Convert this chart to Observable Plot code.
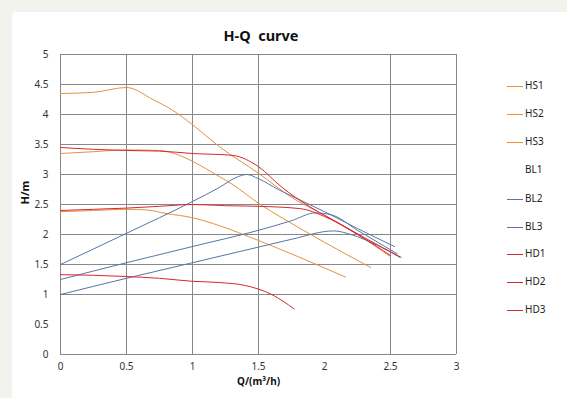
<!DOCTYPE html>
<html><head><meta charset="utf-8">
<script src="https://cdn.jsdelivr.net/npm/d3@7"></script>
<script src="https://cdn.jsdelivr.net/npm/@observablehq/plot@0.6"></script>
<style>
body{margin:0;background:#f3f3ee;font-family:"Noto Sans",sans-serif;}
#wrap{position:relative;width:567px;height:398px;overflow:hidden;}
#panel{position:absolute;left:12px;top:12px;width:560px;height:390px;background:#fff;border-radius:4px;}
#chart{position:absolute;left:0;top:0;}
#title{position:absolute;left:0;width:522px;top:25px;text-align:center;font-weight:bold;font-size:14.5px;color:#111;white-space:pre;}
.leg{position:absolute;left:507px;font-size:10px;color:#222;height:12px;line-height:12px;}
.leg i{display:inline-block;width:16px;height:0;border-top:1px solid;vertical-align:middle;margin-right:2px;}
</style></head>
<body><div id="wrap"><div id="panel"></div><div id="chart"></div><div id="title">H-Q  curve</div><div id="legend"></div></div>
<script>
const seriesNames = ["HS1","HS2","HS3","BL1","BL2","BL3","HD1","HD2","HD3"];
const seriesColors = ["#e3913f","#e3913f","#e3913f","#5676a8","#5676a8","#5676a8","#d9282e","#d9282e","#d9282e"];
const legendLine = [true,true,true,false,true,true,true,true,true];

const HS1 = [[0,4.35],[0.25,4.37],[0.5,4.45],[0.7,4.25],[0.85,4.07],[1.0,3.83],[1.2,3.47],[1.5,3.02],[1.75,2.62],[2.0,2.32],[2.25,2.0],[2.5,1.63]];
const HS2 = [[0,3.35],[0.25,3.38],[0.5,3.41],[0.75,3.4],[0.9,3.32],[1.0,3.22],[1.1,3.1],[1.2,2.97],[1.3,2.84],[1.5,2.52],[1.7,2.25],[2.0,1.87],[2.35,1.45]];
const HS3 = [[0,2.38],[0.25,2.4],[0.5,2.42],[0.65,2.41],[0.8,2.35],[1.0,2.28],[1.2,2.15],[1.5,1.9],[1.8,1.63],[2.16,1.29]];
const BL1 = [[0,1.5],[0.5,2.02],[1.0,2.55],[1.2,2.78],[1.33,2.95],[1.41,3.0],[1.5,2.93],[1.65,2.75],[1.82,2.57],[2.0,2.38],[2.25,2.1],[2.53,1.8]];
const BL2 = [[0,1.25],[0.5,1.53],[1.0,1.8],[1.5,2.07],[1.75,2.23],[1.93,2.36],[2.05,2.33],[2.25,2.07],[2.55,1.68]];
const BL3 = [[0,1.0],[0.5,1.27],[1.0,1.53],[1.5,1.79],[1.75,1.92],[2.07,2.06],[2.2,2.0],[2.4,1.82],[2.57,1.62]];
const HD1 = [[0,3.45],[0.25,3.42],[0.5,3.4],[0.75,3.39],[1.0,3.35],[1.3,3.32],[1.5,3.13],[1.67,2.8],[1.89,2.46],[2.1,2.2],[2.3,1.95],[2.58,1.62]];
const HD2 = [[0,2.4],[0.25,2.42],[0.5,2.44],[0.75,2.47],[1.0,2.5],[1.25,2.48],[1.5,2.47],[1.82,2.43],[2.0,2.3],[2.25,2.0],[2.5,1.65]];
const HD3 = [[0,1.33],[0.25,1.32],[0.5,1.3],[0.75,1.27],[1.0,1.22],[1.2,1.2],[1.4,1.15],[1.6,1.0],[1.77,0.76]];

const xTicks = [0,0.5,1,1.5,2,2.5,3];
const yTicks = [0,0.5,1,1.5,2,2.5,3,3.5,4,4.5,5];
const xGrid = [0,0.5,1,1.5,2.5,3];
const yGrid = [0,1,1.5,2,2.5,3,3.5,4,4.5,5];

const allSeries = [HS1,HS2,HS3,BL1,BL2,BL3,HD1,HD2,HD3];
const rows = [];
allSeries.forEach((s,i)=>s.forEach(([q,h])=>rows.push({series:seriesNames[i],q,h})));

const chart = Plot.plot({
  width:567, height:398,
  marginLeft:60, marginRight:111, marginTop:54, marginBottom:44,
  style:{fontFamily:"Noto Sans, sans-serif",fontSize:"10px",color:"#333",background:"transparent"},
  x:{domain:[0,3], ticks:xTicks, tickSize:0, tickPadding:8, label:null, tickFormat:d=>String(d)},
  y:{domain:[0,5], ticks:yTicks, tickSize:0, tickPadding:12, label:null, tickFormat:d=>String(d)},
  color:{domain:seriesNames, range:seriesColors},
  marks:[
    Plot.ruleX(xGrid,{stroke:"#888",strokeWidth:1}),
    Plot.ruleY(yGrid,{stroke:"#888",strokeWidth:1}),
    Plot.line(rows,{x:"q",y:"h",z:"series",stroke:"series",strokeWidth:1,curve:"monotone-x"}),
    Plot.axisX({ticks:xTicks,tickSize:0,tickPadding:8,label:null,tickFormat:d=>String(d)}),
    Plot.axisY({ticks:yTicks,tickSize:0,tickPadding:12,label:null,tickFormat:d=>String(d)}),
    Plot.text(["Q/(m³/h)"],{frameAnchor:"bottom",dy:30,fontWeight:"bold",fontSize:10,fill:"#111"}),
    Plot.text(["H/m"],{frameAnchor:"left",dx:-35,rotate:-90,fontWeight:"bold",fontSize:11,fill:"#111"})
  ]
});
document.getElementById("chart").appendChild(chart);

const legendY = [85,113,141,169,198,226,253,281,309];
const leg = document.getElementById("legend");
seriesNames.forEach((n,i)=>{
  const d = document.createElement("div");
  d.className="leg";
  d.style.top=(legendY[i]-6)+"px";
  d.innerHTML = `<i style="border-color:${legendLine[i]?seriesColors[i]:"transparent"}"></i>${n}`;
  leg.appendChild(d);
});
</script></body></html>
